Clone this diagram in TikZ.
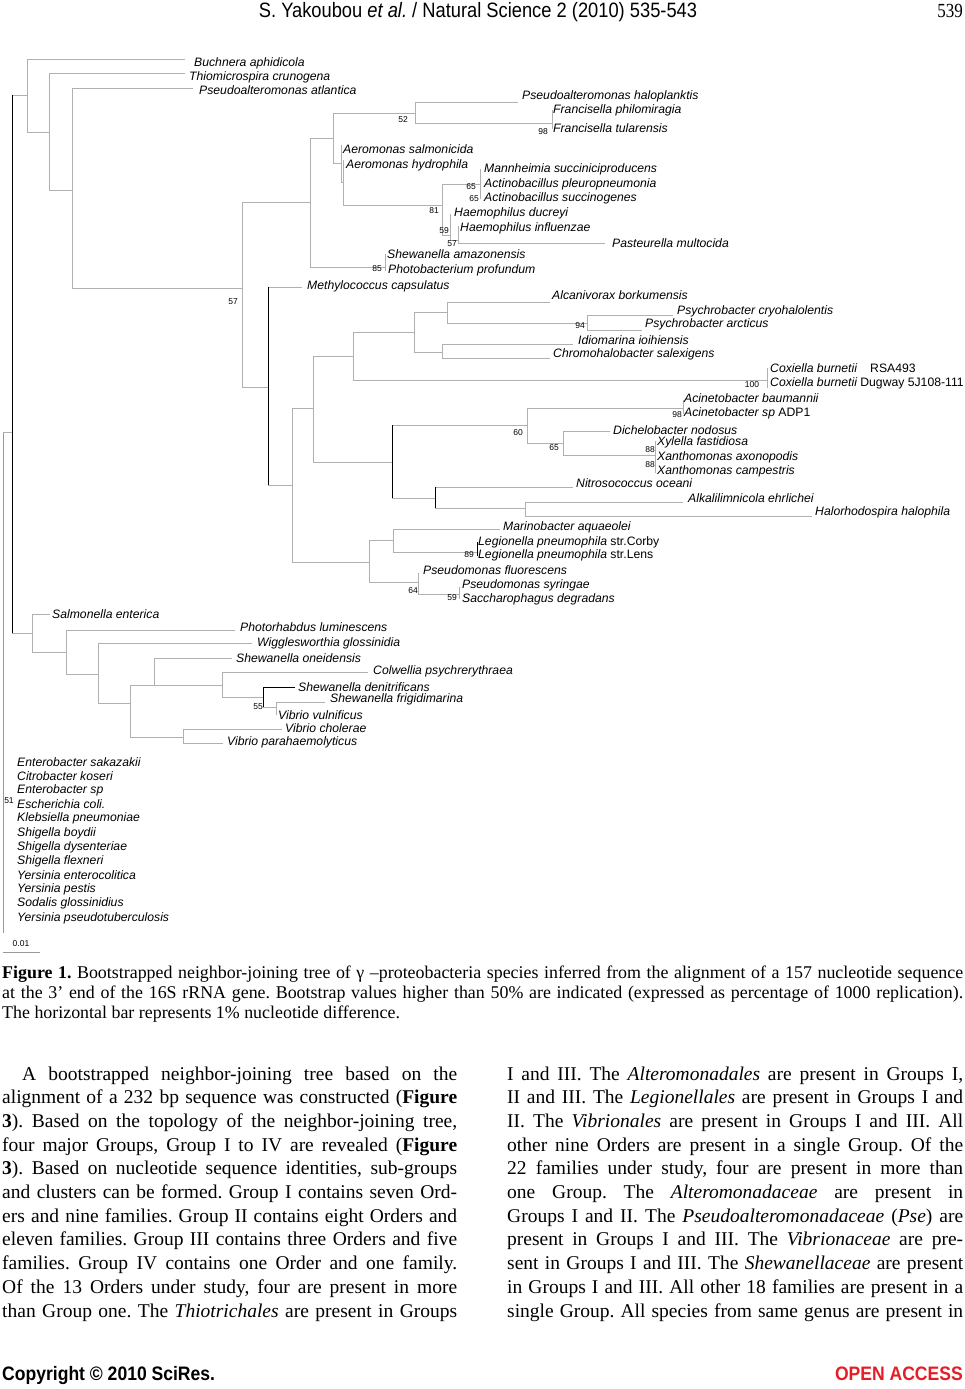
\documentclass[tikz,border=0pt]{standalone}
\usepackage{fontspec}
\setmainfont{Liberation Serif}
\newfontfamily\lsans{Liberation Sans}
\newfontfamily\hdrfont[FakeStretch=0.88]{Liberation Sans}
\newfontfamily\pgnfont[FakeStretch=0.85]{Liberation Serif}
\newfontfamily\ftrfont[FakeStretch=0.9]{Liberation Sans Bold}
\definecolor{oared}{RGB}{228,30,38}
\newcommand\labfont{\lsans\itshape\fontsize{12.2}{14}\selectfont}
\newcommand\bsfont{\lsans\fontsize{8.5}{10}\selectfont}
\newcommand\bodyfont{\rmfamily\fontsize{19.5}{24}\selectfont\frenchspacing}
\newcommand\capfont{\rmfamily\fontsize{17.9}{20}\selectfont\frenchspacing}
\tikzset{
  br/.style={draw=gray!62, line width=0.9pt},
  brk/.style={draw=black, line width=0.9pt},
  lab/.style={anchor=west, inner sep=0pt, font=\labfont},
  bsl/.style={inner sep=0pt, font=\bsfont},
  bl/.style={anchor=base west, inner sep=0pt, font=\bodyfont},
  cl/.style={anchor=base west, inner sep=0pt, font=\capfont},
}
\newcommand\jl[5]{\node[bl] (#1) at (#2,#3) {\makebox[#4pt][s]{#5}};}
\begin{document}
\frenchspacing
\begin{tikzpicture}[x=1pt,y=-1pt]
\fill[white] (0,0) rectangle (965,1389);
\useasboundingbox (0,0) rectangle (965,1389);

% ---------- header ----------
\node[anchor=base, inner sep=0pt, font=\hdrfont\fontsize{20.8}{24}\selectfont] (hdr) at (478,18) {S. Yakoubou \textit{et al.} / Natural Science 2 (2010) 535-543};
\node[anchor=base east, inner sep=0pt, font=\pgnfont\fontsize{20}{24}\selectfont] (pgn) at (963,18) {539};

% ---------- tree: coordinates ----------
\coordinate (R0) at (3,432);   \coordinate (R0e) at (3,933);
\coordinate (N12) at (12,432);
\coordinate (A) at (27,95);    \coordinate (B) at (49,132);
\coordinate (C) at (72,190);   \coordinate (D) at (242,288);
\coordinate (E) at (310,202);  \coordinate (F) at (333,138);
\coordinate (G) at (415,113);  \coordinate (H) at (552,123);
\coordinate (I) at (341,163);  \coordinate (J) at (343,182);
\coordinate (K) at (442,205);  \coordinate (L) at (480,184);
\coordinate (M) at (450,235);  \coordinate (NN) at (458,240);
\coordinate (O) at (385,267);  \coordinate (P) at (268,387);
\coordinate (Q) at (292,485);  \coordinate (R) at (313,408);
\coordinate (S) at (353,356);  \coordinate (T) at (414,332);
\coordinate (U) at (447,312);  \coordinate (V) at (587,323);
\coordinate (W) at (442,352);  \coordinate (X) at (767,380);
\coordinate (Y) at (392,462);  \coordinate (Z) at (527,425);
\coordinate (AA) at (683,408); \coordinate (AB) at (563,443);
\coordinate (AC) at (655,455); \coordinate (AD) at (435,498);
\coordinate (AE) at (525,508); \coordinate (AF) at (369,562);
\coordinate (AG) at (393,540); \coordinate (AH) at (477,552);
\coordinate (AI) at (418,582); \coordinate (AJ) at (459,594);
\coordinate (BA) at (32,633);  \coordinate (BB) at (66,652);
\coordinate (BC) at (98,674);  \coordinate (BD) at (130,703);
\coordinate (BE) at (154,685); \coordinate (BF) at (222,685);
\coordinate (BG) at (263,697); \coordinate (BH) at (276,707);
\coordinate (BI) at (183,737);
% leaf ends
\coordinate (tBuch) at (185,59);  \coordinate (tThio) at (185,73);
\coordinate (tPatl) at (193,88);  \coordinate (tPhal) at (518,102);
\coordinate (tFphi) at (552,110); \coordinate (tFtul) at (552,129);
\coordinate (tAsal) at (341,145); \coordinate (tAhyd) at (343,160);
\coordinate (tMan) at (481,169);  \coordinate (tApl) at (481,184);
\coordinate (tAsu) at (481,198);  \coordinate (tHdu) at (451,214);
\coordinate (tHin) at (459,226);  \coordinate (tPmu) at (605,243);
\coordinate (tSam) at (385,254);  \coordinate (tPpr) at (386,270);
\coordinate (tMca) at (302,287);  \coordinate (tAlc) at (550,302);
\coordinate (tPcr) at (673,315);  \coordinate (tPar) at (642,330);
\coordinate (tIdi) at (573,344);  \coordinate (tChr) at (550,358);
\coordinate (tCx1) at (768,368);  \coordinate (tCx2) at (768,387);
\coordinate (tAba) at (683,400);  \coordinate (tAsp) at (683,414);
\coordinate (tDic) at (610,431);  \coordinate (tXyl) at (656,441);
\coordinate (tXax) at (656,457);  \coordinate (tXca) at (656,472);
\coordinate (tNit) at (573,487);  \coordinate (tAlk) at (683,502);
\coordinate (tHal) at (812,516);  \coordinate (tMar) at (500,529);
\coordinate (tLc) at (477,542);   \coordinate (tLl) at (477,556);
\coordinate (tPfl) at (419,573);  \coordinate (tPsy) at (459,587);
\coordinate (tSde) at (459,599);  \coordinate (tSal) at (50,614);
\coordinate (tPlu) at (235,630);  \coordinate (tWig) at (252,643);
\coordinate (tSon) at (232,658);  \coordinate (tCol) at (368,672);
\coordinate (tSdn) at (295,687);  \coordinate (tSfr) at (325,702);
\coordinate (tVvu) at (277,714);  \coordinate (tVch) at (282,729);
\coordinate (tVpa) at (223,743);

% ---------- tree: branches ----------
\draw[br, draw=gray!80] (R0) -- (R0e);
\draw[br] (R0) -- (N12);
\foreach \p/\c in {N12/A, N12/BA, A/tBuch, A/B, B/tThio, B/C, C/tPatl, C/D,
  D/E, D/P, E/F, E/O, F/G, F/I, G/tPhal, G/H, H/tFphi, H/tFtul, I/tAsal, I/J,
  J/tAhyd, J/K, K/L, K/M, L/tMan, L/tApl, L/tAsu, M/tHdu, M/NN, NN/tHin, NN/tPmu,
  O/tSam, O/tPpr, P/tMca, P/Q, Q/R, Q/AF, R/S, R/Y, S/T, S/X, T/U, T/W,
  U/tAlc, U/V, V/tPcr, V/tPar, W/tIdi, W/tChr, X/tCx1, X/tCx2, Y/Z, Y/AD,
  Z/AA, Z/AB, AA/tAba, AA/tAsp, AB/tDic, AB/AC, AC/tXyl, AC/tXax, AC/tXca,
  AD/tNit, AD/AE, AE/tAlk, AE/tHal, AF/AG, AF/AI, AG/tMar, AG/AH, AH/tLc, AH/tLl,
  AI/tPfl, AI/AJ, AJ/tPsy, AJ/tSde, BA/tSal, BA/BB, BB/tPlu, BB/BC, BC/tWig, BC/BD,
  BD/BE, BD/BI, BE/tSon, BE/BF, BF/tCol, BF/BG, BG/tSdn, BG/BH, BH/tSfr, BH/tVvu,
  BI/tVch, BI/tVpa}
  \draw[br] (\p) |- (\c);
% darker verticals
\draw[brk] (N12 |- A) -- (N12 |- BA);
\draw[brk] (P |- tMca) -- (P |- Q);
\draw[brk] (Y |- Z) -- (Y |- AD);
\draw[brk] (AD |- tNit) -- (AD |- AE);
\draw[brk] (AH |- tLc) -- (AH |- tLl);
\draw[brk] (BG |- BH) |- (tSdn);

% ---------- tree: labels ----------
\node[lab] (lBuch) at (194,63) {Buchnera aphidicola};
\node[lab] (lThio) at (189,77) {Thiomicrospira crunogena};
\node[lab] (lPatl) at (199,90) {Pseudoalteromonas atlantica};
\node[lab] (lPhal) at (522,96) {Pseudoalteromonas haloplanktis};
\node[lab] (lFphi) at (553,110) {Francisella philomiragia};
\node[lab] (lFtul) at (553,128) {Francisella tularensis};
\node[lab] (lAsal) at (343,149) {Aeromonas salmonicida};
\node[lab] (lAhyd) at (346,165) {Aeromonas hydrophila};
\node[lab] (lMan) at (484,169) {Mannheimia succiniciproducens};
\node[lab] (lApl) at (484,184) {Actinobacillus pleuropneumonia};
\node[lab] (lAsu) at (484,198) {Actinobacillus succinogenes};
\node[lab] (lHdu) at (454,213) {Haemophilus ducreyi};
\node[lab] (lHin) at (460,228) {Haemophilus influenzae};
\node[lab] (lPmu) at (612,243) {Pasteurella multocida};
\node[lab] (lSam) at (387,254) {Shewanella amazonensis};
\node[lab] (lPpr) at (388,270) {Photobacterium profundum};
\node[lab] (lMca) at (307,286) {Methylococcus capsulatus};
\node[lab] (lAlc) at (552,295) {Alcanivorax borkumensis};
\node[lab] (lPcr) at (677,311) {Psychrobacter cryohalolentis};
\node[lab] (lPar) at (645,324) {Psychrobacter arcticus};
\node[lab] (lIdi) at (578,340) {Idiomarina ioihiensis};
\node[lab] (lChr) at (553,354) {Chromohalobacter salexigens};
\node[lab] (lCx1) at (770,368) {Coxiella burnetii};
\node[lab, font=\lsans\fontsize{12.2}{14}\selectfont] (lCx1b) at (870,368) {RSA493};
\node[lab] (lCx2) at (770,383) {Coxiella burnetii \upshape Dugway 5J108-111};
\node[lab] (lAba) at (684,398) {Acinetobacter baumannii};
\node[lab] (lAsp) at (684,413) {Acinetobacter sp \upshape ADP1};
\node[lab] (lDic) at (613,430) {Dichelobacter nodosus};
\node[lab] (lXyl) at (657,442) {Xylella fastidiosa};
\node[lab] (lXax) at (657,457) {Xanthomonas axonopodis};
\node[lab] (lXca) at (657,471) {Xanthomonas campestris};
\node[lab] (lNit) at (576,483) {Nitrosococcus oceani};
\node[lab] (lAlk) at (688,498) {Alkalilimnicola ehrlichei};
\node[lab] (lHal) at (815,512) {Halorhodospira halophila};
\node[lab] (lMar) at (503,527) {Marinobacter aquaeolei};
\node[lab] (lLc) at (478,542) {Legionella pneumophila \upshape str.Corby};
\node[lab] (lLl) at (478,555) {Legionella pneumophila \upshape str.Lens};
\node[lab] (lPfl) at (423,570) {Pseudomonas fluorescens};
\node[lab] (lPsy) at (462,585) {Pseudomonas syringae};
\node[lab] (lSde) at (462,599) {Saccharophagus degradans};
\node[lab] (lSal) at (52,614) {Salmonella enterica};
\node[lab] (lPlu) at (240,627) {Photorhabdus luminescens};
\node[lab] (lWig) at (257,643) {Wigglesworthia glossinidia};
\node[lab] (lSon) at (236,658) {Shewanella oneidensis};
\node[lab] (lCol) at (373,671) {Colwellia psychrerythraea};
\node[lab] (lSdn) at (298,687) {Shewanella denitrificans};
\node[lab] (lSfr) at (330,699) {Shewanella frigidimarina};
\node[lab] (lVvu) at (278,715) {Vibrio vulnificus};
\node[lab] (lVch) at (285,728) {Vibrio cholerae};
\node[lab] (lVpa) at (227,742) {Vibrio parahaemolyticus};
\foreach \n/\t [count=\i from 0] in {e1/Enterobacter sakazakii, e2/Citrobacter koseri,
  e3/Enterobacter sp, e4/Escherichia coli., e5/Klebsiella pneumoniae, e6/Shigella boydii,
  e7/Shigella dysenteriae, e8/Shigella flexneri, e9/Yersinia enterocolitica,
  e10/Yersinia pestis, e11/Sodalis glossinidius, e12/Yersinia pseudotuberculosis}
  \node[lab] (\n) at (17,{762+14.18*\i}) {\t};

% ---------- bootstrap values ----------
\node[bsl] (b1) at (403,120) {52};
\node[bsl] (b2) at (543,132) {98};
\node[bsl] (b3) at (471,187) {65};
\node[bsl] (b4) at (474,199) {65};
\node[bsl] (b5) at (434,211) {81};
\node[bsl] (b6) at (444,231) {59};
\node[bsl] (b7) at (452,244) {57};
\node[bsl] (b8) at (377,269) {85};
\node[bsl] (b9) at (233,302) {57};
\node[bsl] (b10) at (580,326) {94};
\node[bsl] (b11) at (752,385) {100};
\node[bsl] (b12) at (677,415) {98};
\node[bsl] (b13) at (518,433) {60};
\node[bsl] (b14) at (554,448) {65};
\node[bsl] (b15) at (650,450) {88};
\node[bsl] (b16) at (650,465) {88};
\node[bsl] (b17) at (469,555) {89};
\node[bsl] (b18) at (413,591) {64};
\node[bsl] (b19) at (452,598) {59};
\node[bsl] (b20) at (258,707) {55};
\node[bsl] (b21) at (9,801) {51};

% scale bar
\coordinate (sb1) at (3,952); \coordinate (sb2) at (40,952);
\draw[br, draw=gray!80] (sb1) -- (sb2);
\node[bsl] (sbl) at (21,944) {0.01};

% ---------- caption ----------
\node[cl] (c1) at (2,978) {\makebox[961pt][s]{\textbf{Figure 1.} Bootstrapped neighbor-joining tree of γ –proteobacteria species inferred from the alignment of a 157 nucleotide sequence}};
\node[cl] (c2) at (2,998) {\makebox[961pt][s]{at the 3’ end of the 16S rRNA gene. Bootstrap values higher than 50\% are indicated (expressed as percentage of 1000 replication).}};
\node[cl] (c3) at (2,1018) {The horizontal bar represents 1\% nucleotide difference.};

% ---------- body text ----------
\jl{L1}{22}{1080}{435}{A bootstrapped neighbor-joining tree based on the}
\jl{L2}{2}{1103.7}{455}{alignment of a 232 bp sequence was constructed (\textbf{Figure}}
\jl{L3}{2}{1127.4}{455}{\textbf{3}). Based on the topology of the neighbor-joining tree,}
\jl{L4}{2}{1151.1}{455}{four major Groups, Group I to IV are revealed (\textbf{Figure}}
\jl{L5}{2}{1174.8}{455}{\textbf{3}). Based on nucleotide sequence identities, sub-groups}
\jl{L6}{2}{1198.5}{455}{and clusters can be formed. Group I contains seven Ord-}
\jl{L7}{2}{1222.2}{455}{ers and nine families. Group II contains eight Orders and}
\jl{L8}{2}{1245.9}{455}{eleven families. Group III contains three Orders and five}
\jl{L9}{2}{1269.6}{455}{families. Group IV contains one Order and one family.}
\jl{L10}{2}{1293.3}{455}{Of the 13 Orders under study, four are present in more}
\jl{L11}{2}{1317}{455}{than Group one. The \textit{Thiotrichales} are present in Groups}

\jl{R1}{507}{1080}{456}{I and III. The \textit{Alteromonadales} are present in Groups I,}
\jl{R2}{507}{1103.7}{456}{II and III. The \textit{Legionellales} are present in Groups I and}
\jl{R3}{507}{1127.4}{456}{II. The \textit{Vibrionales} are present in Groups I and III. All}
\jl{R4}{507}{1151.1}{456}{other nine Orders are present in a single Group. Of the}
\jl{R5}{507}{1174.8}{456}{22 families under study, four are present in more than}
\jl{R6}{507}{1198.5}{456}{one Group. The \textit{Alteromonadaceae} are present in}
\jl{R7}{507}{1222.2}{456}{Groups I and II. The \textit{Pseudoalteromonadaceae} (\textit{Pse}) are}
\jl{R8}{507}{1245.9}{456}{present in Groups I and III. The \textit{Vibrionaceae} are pre-}
\jl{R9}{507}{1269.6}{456}{sent in Groups I and III. The \textit{Shewanellaceae} are present}
\jl{R10}{507}{1293.3}{456}{in Groups I and III. All other 18 families are present in a}
\jl{R11}{507}{1317}{456}{single Group. All species from same genus are present in}

% ---------- footer ----------
\node[anchor=base west, inner sep=0pt, font=\ftrfont\fontsize{19.5}{22}\selectfont] (cpy) at (2,1380) {Copyright © 2010 SciRes.};
\node[anchor=base east, inner sep=0pt, text=oared, font=\ftrfont\fontsize{19.5}{22}\selectfont] (oa) at (963,1380) {OPEN ACCESS};
\end{tikzpicture}
\end{document}
